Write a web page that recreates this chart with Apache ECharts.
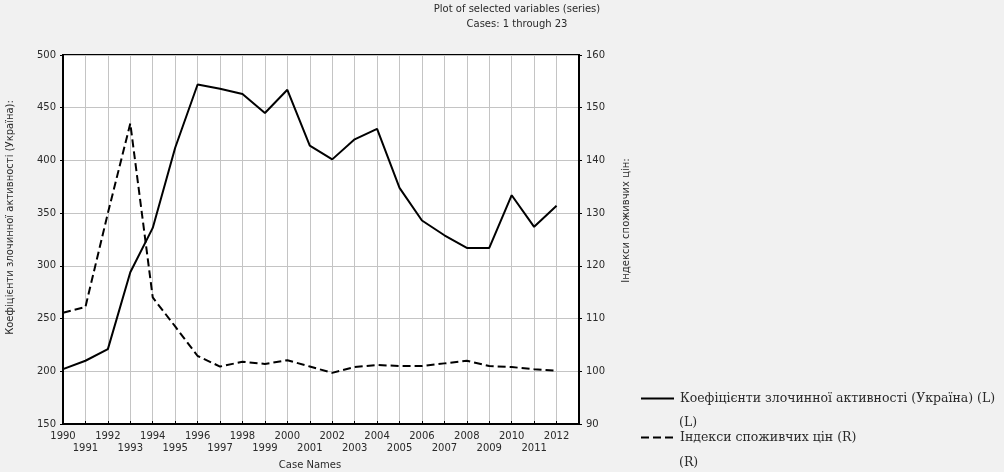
<!DOCTYPE html>
<html>
<head>
<meta charset="utf-8">
<script src="https://cdn.jsdelivr.net/npm/echarts@6/dist/echarts.min.js"></script>
<style>
  html, body { margin: 0; padding: 0; background: #f1f1f1; }
  #chart { width: 1004px; height: 472px; }
</style>
</head>
<body>
<div id="chart"></div>
<script>
// Years shown on the case axis
const years = [1990, 1991, 1992, 1993, 1994, 1995, 1996, 1997, 1998, 1999, 2000, 2001,
               2002, 2003, 2004, 2005, 2006, 2007, 2008, 2009, 2010, 2011, 2012];

// Crime activity coefficients (left axis)
const crimeRate = [202, 210, 221, 294, 336, 412, 472, 468, 463, 445, 467, 414,
                   401, 420, 430, 374, 343, 329, 317, 317, 367, 337, 357];

// Consumer price indices (right axis)
const priceIndex = [111.1, 112.2, 130.0, 147.0, 114.0, 108.5, 102.9, 100.9, 101.8, 101.4, 102.1, 100.9,
                    99.7, 100.8, 101.2, 101.0, 101.0, 101.5, 102.0, 101.0, 100.8, 100.4, 100.1];

// Series and axis names
const crimeName = 'Коефіцієнти злочинної активності (Україна) (L)';
const priceName = 'Індекси споживчих цін (R)';
const leftAxisName = 'Коефіцієнти злочинної активності (Україна):';
const rightAxisName = 'Індекси споживчих цін:';

const sans = '"DejaVu Sans", "Liberation Sans", sans-serif';
const serif = '"DejaVu Serif", "Liberation Serif", serif';
const textColor = '#2a2a2a';
const gridColor = '#c4c4c4';
const legendFont = 12.5;

// One empty slot after the last year leaves the margin before the right axis
const caseSlots = years.map(String).concat(['']);

const chart = echarts.init(document.getElementById('chart'), null, { renderer: 'canvas' });

const legendBase = {
  orient: 'vertical',
  left: 640,
  padding: 0,
  itemWidth: 33,
  itemHeight: 12,
  itemStyle: { opacity: 0 },
  textStyle: { fontFamily: serif, fontSize: legendFont, color: textColor, padding: [0, 0, 0, 1] }
};

chart.setOption({
  backgroundColor: '#f1f1f1',
  animation: false,
  title: {
    text: 'Plot of selected variables (series)',
    subtext: 'Cases: 1 through 23',
    left: 512,
    top: -1,
    textAlign: 'center',
    itemGap: 5,
    textStyle: { fontFamily: sans, fontSize: 10, fontWeight: 'normal', color: textColor },
    subtextStyle: { fontFamily: sans, fontSize: 10, color: textColor }
  },
  legend: [
    Object.assign({ data: [crimeName], top: 392 }, legendBase),
    Object.assign({ data: [priceName], top: 431 }, legendBase)
  ],
  graphic: [
    { type: 'text', left: 679, top: 416,
      style: { text: '(L)', font: legendFont + 'px ' + serif, fill: textColor } },
    { type: 'text', left: 679, top: 456,
      style: { text: '(R)', font: legendFont + 'px ' + serif, fill: textColor } }
  ],
  grid: {
    left: 63,
    right: 425,
    top: 55,
    bottom: 48,
    outerBoundsMode: 'none',
    containLabel: false,
    show: true,
    backgroundColor: '#ffffff',
    borderColor: '#000000',
    borderWidth: 2
  },
  xAxis: {
    type: 'category',
    data: caseSlots,
    boundaryGap: false,
    name: 'Case Names',
    nameLocation: 'middle',
    nameGap: 36,
    nameTextStyle: { fontFamily: sans, fontSize: 10, color: textColor, padding: [0, 22, 0, 0] },
    axisLine: { show: true, lineStyle: { color: '#000', width: 2 } },
    axisTick: { show: true, inside: true, length: 3, interval: 0, lineStyle: { color: '#000' } },
    axisLabel: {
      interval: 0,
      margin: 6,
      fontFamily: sans,
      fontSize: 10,
      lineHeight: 12,
      color: textColor,
      formatter: function (v, idx) {
        if (v === '') return '';
        return idx % 2 ? '\n' + v : v;
      }
    },
    splitLine: { show: true, interval: 0, lineStyle: { color: gridColor, width: 1 } }
  },
  yAxis: [
    {
      type: 'value',
      min: 150,
      max: 500,
      interval: 50,
      position: 'left',
      name: leftAxisName,
      nameLocation: 'middle',
      nameGap: 48,
      nameTextStyle: { fontFamily: sans, fontSize: 10, color: textColor, padding: [0, 0, 0, 44] },
      axisLine: { show: true, lineStyle: { color: '#000', width: 2 } },
      axisTick: { show: true, length: 3, lineStyle: { color: '#000' } },
      axisLabel: { margin: 7, showMinLabel: true, showMaxLabel: true, fontFamily: sans, fontSize: 10, color: textColor },
      splitLine: { show: true, lineStyle: { color: gridColor, width: 1 } }
    },
    {
      type: 'value',
      min: 90,
      max: 160,
      interval: 10,
      position: 'right',
      name: rightAxisName,
      nameLocation: 'middle',
      nameGap: 42,
      nameTextStyle: { fontFamily: sans, fontSize: 10, color: textColor, padding: [0, 0, 0, 38] },
      axisLine: { show: true, lineStyle: { color: '#000', width: 2 } },
      axisTick: { show: true, length: 3, lineStyle: { color: '#000' } },
      axisLabel: { margin: 7, showMinLabel: true, showMaxLabel: true, fontFamily: sans, fontSize: 10, color: textColor },
      splitLine: { show: false }
    }
  ],
  series: [
    {
      name: crimeName,
      type: 'line',
      yAxisIndex: 0,
      symbol: 'none',
      data: crimeRate,
      lineStyle: { color: '#000', width: 2, type: 'solid' },
      itemStyle: { color: '#000' }
    },
    {
      name: priceName,
      type: 'line',
      yAxisIndex: 1,
      symbol: 'none',
      data: priceIndex,
      lineStyle: { color: '#000', width: 2, type: [8, 4] },
      itemStyle: { color: '#000' }
    }
  ]
});
</script>
</body>
</html>
